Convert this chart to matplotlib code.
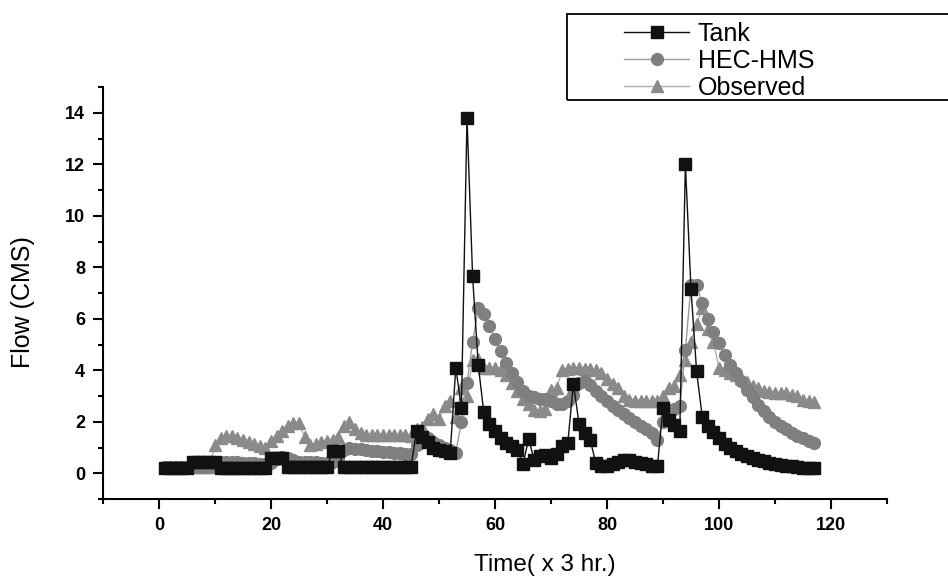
import matplotlib
matplotlib.use("Agg")
import matplotlib.pyplot as plt
from matplotlib.lines import Line2D
from matplotlib.patches import Rectangle
from matplotlib.ticker import MultipleLocator

plt.rcParams['font.family'] = ['Liberation Sans', 'DejaVu Sans']

time = list(range(1, 118))

tank = [0.2, 0.2, 0.2, 0.2, 0.2, 0.45, 0.45, 0.45, 0.45, 0.45,
        0.2, 0.2, 0.2, 0.2, 0.2, 0.2, 0.2, 0.2, 0.2, 0.6,
        0.6, 0.6, 0.25, 0.25, 0.25, 0.25, 0.25, 0.25, 0.25, 0.25,
        0.85, 0.85, 0.25, 0.25, 0.25, 0.25, 0.25, 0.25, 0.25, 0.25,
        0.25, 0.25, 0.25, 0.25, 0.25, 1.65, 1.4, 1.2, 1.0, 0.9,
        0.85, 0.8, 4.1, 2.55, 13.8, 7.65, 4.22, 2.37, 1.92, 1.63,
        1.37, 1.18, 1.05, 0.92, 0.35, 1.33, 0.53, 0.66, 0.72, 0.6,
        0.75, 1.05, 1.18, 3.48, 1.93, 1.57, 1.3, 0.4, 0.3, 0.3,
        0.35, 0.45, 0.5, 0.5, 0.45, 0.4, 0.35, 0.3, 0.27, 2.54,
        2.08, 1.89, 1.65, 12.0, 7.14, 3.96, 2.2, 1.85, 1.6, 1.35,
        1.12, 0.98, 0.86, 0.75, 0.67, 0.59, 0.52, 0.46, 0.41, 0.37,
        0.33, 0.3, 0.27, 0.24, 0.22, 0.21, 0.2]

hec = [0.25, 0.25, 0.25, 0.25, 0.25, 0.25, 0.25, 0.25, 0.25, 0.3,
       0.45, 0.45, 0.45, 0.42, 0.4, 0.4, 0.38, 0.36, 0.35, 0.4,
       0.55, 0.65, 0.6, 0.5, 0.45, 0.45, 0.45, 0.42, 0.4, 0.4,
       0.45, 0.6, 0.9, 1.0, 0.95, 0.93, 0.9, 0.88, 0.86, 0.84,
       0.82, 0.8, 0.78, 0.76, 0.75, 1.1, 1.4, 1.35, 1.2, 1.1,
       1.0, 0.9, 0.8, 2.0, 3.5, 5.1, 6.4, 6.2, 5.7, 5.2,
       4.75, 4.3, 3.9, 3.55, 3.2, 3.0, 2.95, 2.9, 2.9, 2.8,
       2.7, 2.67, 2.8, 3.05, 3.5, 3.57, 3.44, 3.2, 3.0, 2.8,
       2.6, 2.45, 2.3, 2.15, 2.0, 1.85, 1.7, 1.55, 1.3, 2.0,
       2.4, 2.5, 2.6, 4.8, 7.3, 7.3, 6.6, 6.0, 5.5, 5.05,
       4.6, 4.2, 3.9, 3.57, 3.25, 2.95, 2.65, 2.4, 2.2, 2.0,
       1.85, 1.7, 1.58, 1.45, 1.35, 1.25, 1.18]

observed = [0.25, 0.25, 0.25, 0.25, 0.25, 0.25, 0.25, 0.25, 0.25, 1.1,
            1.35, 1.45, 1.45, 1.38, 1.3, 1.22, 1.12, 1.05, 1.0, 1.25,
            1.45, 1.65, 1.85, 1.95, 1.95, 1.4, 1.1, 1.15, 1.2, 1.25,
            1.3, 1.4, 1.85, 2.0, 1.7, 1.55, 1.5, 1.5, 1.5, 1.5,
            1.5, 1.5, 1.5, 1.5, 1.45, 1.7, 1.8, 2.1, 2.3, 2.1,
            2.6, 2.8, 2.2, 3.3, 3.0, 4.4, 4.45, 4.1, 4.1, 4.1,
            4.0, 3.8, 3.5, 3.2, 2.9, 2.7, 2.45, 2.4, 2.48, 3.25,
            3.3, 4.0, 4.05, 4.1, 4.1, 4.05, 4.05, 4.0, 3.9, 3.65,
            3.45, 3.3, 3.0, 2.85, 2.8, 2.8, 2.8, 2.8, 2.8, 3.0,
            3.3, 3.4, 3.8, 4.4, 5.1, 5.8, 6.4, 5.6, 5.1, 4.1,
            4.0, 3.9, 3.8, 3.7, 3.55, 3.4, 3.3, 3.2, 3.15, 3.12,
            3.1, 3.1, 3.05, 3.0, 2.85, 2.8, 2.75]

labels = ['Tank', 'HEC-HMS', 'Observed']

W, H = 948, 580
fig = plt.figure(figsize=(W / 100, H / 100), dpi=100)
ax = fig.add_axes([103 / W, 1 - 499 / H, (887 - 103) / W, (499 - 87) / H])

ax.plot(time, observed, color='#b0b0b0', lw=1.0, marker='^', ms=9,
        mfc='#8a8a8a', mec='#8a8a8a', zorder=2)
ax.plot(time, hec, color='#9a9a9a', lw=1.0, marker='o', ms=8.5,
        mfc='#7f7f7f', mec='#7f7f7f', zorder=3)
ax.plot(time, tank, color='#111111', lw=1.0, marker='s', ms=8,
        mfc='#111111', mec='#111111', zorder=4)

ax.set_xlim(-10, 130)
ax.set_ylim(-1, 15)
ax.xaxis.set_major_locator(MultipleLocator(20))
ax.xaxis.set_minor_locator(MultipleLocator(10))
ax.yaxis.set_major_locator(MultipleLocator(2))
ax.yaxis.set_minor_locator(MultipleLocator(1))
for s in ['top', 'right']:
    ax.spines[s].set_visible(False)
for s in ['left', 'bottom']:
    ax.spines[s].set_linewidth(1.5)
ax.tick_params(which='major', direction='out', length=7, width=1.5, pad=6,
               labelsize=13)
ax.tick_params(which='minor', direction='out', length=3.6, width=1.5)
for lab in ax.get_xticklabels() + ax.get_yticklabels():
    lab.set_fontweight('bold')

fig.text(545 / W, 1 - 565 / H, 'Time( x 3 hr.)', ha='center', va='center',
         fontsize=17.5)
fig.text(23 / W, 1 - 302 / H, 'Flow (CMS)', ha='center', va='center',
         rotation=90, fontsize=18)

# legend frame
fig.patches.append(Rectangle((567 / W, 1 - 100 / H), (960 - 567) / W, 86 / H,
                             transform=fig.transFigure, fill=False,
                             edgecolor='black', linewidth=1.3))
handles = [
    Line2D([], [], color='#111111', lw=1.0, marker='s', ms=8, mfc='#111111', mec='#111111'),
    Line2D([], [], color='#9a9a9a', lw=1.0, marker='o', ms=8.5, mfc='#7f7f7f', mec='#7f7f7f'),
    Line2D([], [], color='#b0b0b0', lw=1.0, marker='^', ms=9, mfc='#8a8a8a', mec='#8a8a8a'),
]
leg = fig.legend(handles, labels, loc='upper left',
                 bbox_to_anchor=(624 / W, 1 - 22 / H),
                 frameon=False, handlelength=2.6,
                 handletextpad=0.35, labelspacing=0.12, borderpad=0.0,
                 borderaxespad=0.0,
                 prop={'family': ['Liberation Sans'], 'size': 18})

fig.savefig('out.png', dpi=100)
